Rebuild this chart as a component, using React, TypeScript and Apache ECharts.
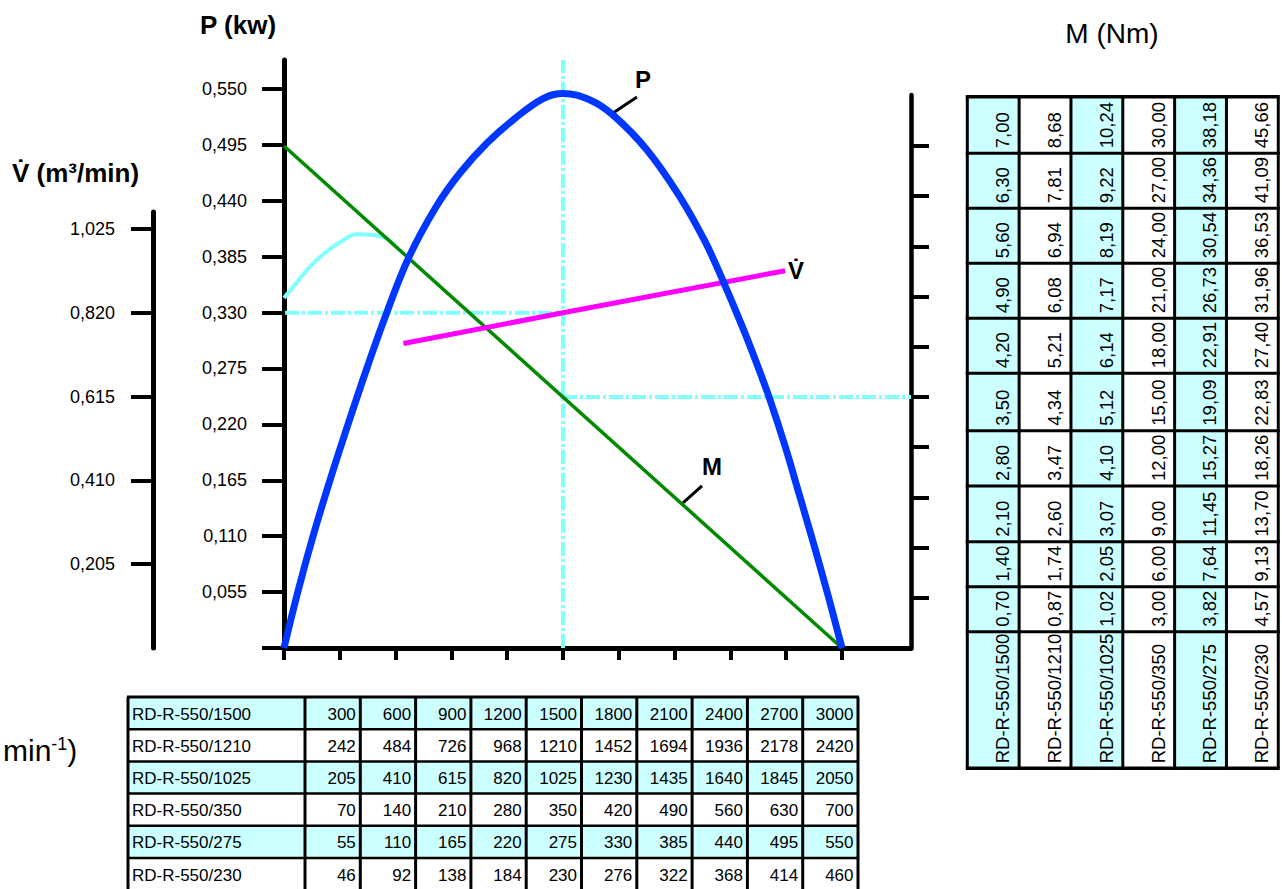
import React, { useEffect, useRef } from 'react';
import * as echarts from 'echarts';

// ---------------- data ----------------
// speed axis: tick positions (column index of the speed table)
const nTicks = [0, 1, 2, 3, 4, 5, 6, 7, 8, 9, 10];
// P (kW) tick values
const pTicks = [0, 0.055, 0.11, 0.165, 0.22, 0.275, 0.33, 0.385, 0.44, 0.495, 0.55];
const pLabelValues = [0.055, 0.11, 0.165, 0.22, 0.275, 0.33, 0.385, 0.44, 0.495, 0.55];
// V (m3/min) tick values
const vTicks = [0.205, 0.41, 0.615, 0.82, 1.025];
// M (Nm) tick values (model RD-R-550/1500)
const mTicks = [0.7, 1.4, 2.1, 2.8, 3.5, 4.2, 4.9, 5.6, 6.3, 7.0];

// power curve P(n)
const pCurveN = [0, 0.251, 0.52, 0.824, 1.147, 1.487, 1.846, 2.24, 2.724, 3.154, 3.638, 4.104, 4.642, 5.0, 5.484, 5.896, 6.505, 7.097, 7.545, 7.867, 8.208, 8.477, 8.71, 8.978, 9.229, 9.489, 9.749, 10];
const pCurveP = [0, 0.056, 0.11, 0.165, 0.22, 0.2755, 0.3306, 0.3847, 0.4339, 0.4673, 0.4969, 0.5195, 0.5406, 0.5456, 0.5392, 0.5244, 0.49, 0.4437, 0.4, 0.3612, 0.3169, 0.2792, 0.2442, 0.199, 0.152, 0.103, 0.052, 0];

// torque line M(n)
const mLineN = [0, 10];
const mLineM = [7.0, 0];
// low-speed torque curve
const mLowN = [0, 0.167, 0.466, 0.765, 1.063, 1.303, 1.6, 1.84, 1.97];
const mLowM = [4.88, 5.04, 5.32, 5.53, 5.69, 5.77, 5.76, 5.71, 5.62];
// volume flow V(n)
const vLineN = [2.14, 5, 8.98];
const vLineV = [0.745, 0.82, 0.923];
// operating point marks
const opN = 5;
const opV = 0.82;
const opM = 3.5;

// speed table (rpm per tick)
const models = ['RD-R-550/1500', 'RD-R-550/1210', 'RD-R-550/1025', 'RD-R-550/350', 'RD-R-550/275', 'RD-R-550/230'];
const speed1500 = [300, 600, 900, 1200, 1500, 1800, 2100, 2400, 2700, 3000];
const speed1210 = [242, 484, 726, 968, 1210, 1452, 1694, 1936, 2178, 2420];
const speed1025 = [205, 410, 615, 820, 1025, 1230, 1435, 1640, 1845, 2050];
const speed350 = [70, 140, 210, 280, 350, 420, 490, 560, 630, 700];
const speed275 = [55, 110, 165, 220, 275, 330, 385, 440, 495, 550];
const speed230 = [46, 92, 138, 184, 230, 276, 322, 368, 414, 460];
const speedRows = [speed1500, speed1210, speed1025, speed350, speed275, speed230];

// torque table (Nm per M tick, top to bottom)
const torque1500 = [7.0, 6.3, 5.6, 4.9, 4.2, 3.5, 2.8, 2.1, 1.4, 0.7];
const torque1210 = [8.68, 7.81, 6.94, 6.08, 5.21, 4.34, 3.47, 2.6, 1.74, 0.87];
const torque1025 = [10.24, 9.22, 8.19, 7.17, 6.14, 5.12, 4.1, 3.07, 2.05, 1.02];
const torque350 = [30.0, 27.0, 24.0, 21.0, 18.0, 15.0, 12.0, 9.0, 6.0, 3.0];
const torque275 = [38.18, 34.36, 30.54, 26.73, 22.91, 19.09, 15.27, 11.45, 7.64, 3.82];
const torque230 = [45.66, 41.09, 36.53, 31.96, 27.4, 22.83, 18.26, 13.7, 9.13, 4.57];
const torqueCols = [torque1500, torque1210, torque1025, torque350, torque275, torque230];

// ---------------- layout ----------------
const FONT = "'Liberation Sans', Arial, Helvetica, sans-serif";
const W = 1282;
const H = 889;
const PLOT = { left: 284, top: 60, right: 911, bottom: 648 };
const PX_PER_N = 55.8;
const PX_PER_P = 1016.4;
const PX_PER_V = 408.8;
const PX_PER_M = 71.71;
const V_AXIS = { left: 153, top: 212 };
const M_AXIS = { left: 910, top: 95 };
const CYAN = '#80ffff';
const LIGHT = '#ccffff';
const DASHDOT = [14, 3, 3, 3];

const plotH = PLOT.bottom - PLOT.top;
const N_MAX = (PLOT.right - PLOT.left) / PX_PER_N;
const P_MAX = plotH / PX_PER_P;
const V_MAX0 = plotH / PX_PER_V;
const M_MAX0 = plotH / PX_PER_M;
const V_MAX1 = (PLOT.bottom - V_AXIS.top) / PX_PER_V;
const M_MAX2 = (PLOT.bottom - M_AXIS.top) / PX_PER_M;
const N_LEFT_EXT = -22 / PX_PER_N;

const zip = (a: number[], b: number[]) => a.map((v, i) => [v, b[i]]);
const comma = (v: number, d: number) => v.toFixed(d).replace('.', ',');

function buildOption(): any {
  const axisBlack = { color: '#000', width: 5 };
  return {
    animation: false,
    grid: [
      { left: PLOT.left, top: PLOT.top, width: PLOT.right - PLOT.left, height: plotH, containLabel: false, outerBoundsMode: 'none' },
      { left: V_AXIS.left, top: V_AXIS.top, width: 1, height: PLOT.bottom - V_AXIS.top, containLabel: false, outerBoundsMode: 'none' },
      { left: M_AXIS.left, top: M_AXIS.top, width: 1, height: PLOT.bottom - M_AXIS.top, containLabel: false, outerBoundsMode: 'none' },
    ],
    xAxis: [
      {
        gridIndex: 0, type: 'value', min: 0, max: N_MAX,
        axisLine: { show: true, onZero: false, lineStyle: axisBlack },
        axisTick: { show: true, customValues: nTicks, length: 12, lineStyle: { color: '#000', width: 4 } },
        axisLabel: { show: false }, splitLine: { show: false },
      },
      { gridIndex: 1, type: 'value', min: 0, max: 1, show: false },
      { gridIndex: 2, type: 'value', min: 0, max: 1, show: false },
    ],
    yAxis: [
      {
        gridIndex: 0, type: 'value', position: 'left', min: 0, max: P_MAX,
        axisLine: { show: true, onZero: false, lineStyle: axisBlack },
        axisTick: { show: true, customValues: pTicks, length: 22, lineStyle: { color: '#000', width: 4 } },
        axisLabel: {
          show: true, customValues: pLabelValues, margin: 37, fontSize: 18, fontFamily: FONT, color: '#000',
          formatter: (v: number) => comma(v, 3),
        },
        splitLine: { show: false },
      },
      { gridIndex: 0, type: 'value', min: 0, max: V_MAX0, show: false },
      { gridIndex: 0, type: 'value', position: 'right', min: 0, max: M_MAX0, show: false },
      {
        gridIndex: 1, type: 'value', position: 'left', min: 0, max: V_MAX1,
        axisLine: { show: true, onZero: false, lineStyle: axisBlack },
        axisTick: { show: true, customValues: vTicks, length: 22, lineStyle: { color: '#000', width: 4 } },
        axisLabel: {
          show: true, customValues: vTicks, margin: 38, fontSize: 18, fontFamily: FONT, color: '#000',
          formatter: (v: number) => comma(v, 3),
        },
        splitLine: { show: false },
      },
      {
        gridIndex: 2, type: 'value', position: 'right', min: 0, max: M_MAX2,
        axisLine: { show: true, onZero: false, lineStyle: { color: '#000', width: 4.5 } },
        axisTick: { show: true, customValues: mTicks, length: 18, lineStyle: { color: '#000', width: 4 } },
        axisLabel: { show: false },
        splitLine: { show: false },
      },
    ],
    series: [
      {
        name: 'n op', type: 'line', xAxisIndex: 0, yAxisIndex: 0, symbol: 'none', clip: false,
        data: [[opN, 0], [opN, P_MAX]],
        lineStyle: { color: CYAN, width: 4, type: DASHDOT },
      },
      {
        name: 'V op', type: 'line', xAxisIndex: 0, yAxisIndex: 1, symbol: 'none', clip: false,
        data: [[N_LEFT_EXT, opV], [opN, opV]],
        lineStyle: { color: CYAN, width: 4, type: DASHDOT },
      },
      {
        name: 'M op', type: 'line', xAxisIndex: 0, yAxisIndex: 2, symbol: 'none', clip: false,
        data: [[opN, opM], [N_MAX, opM]],
        lineStyle: { color: CYAN, width: 4, type: DASHDOT },
      },
      {
        name: 'M low', type: 'line', xAxisIndex: 0, yAxisIndex: 2, symbol: 'none', smooth: 0.4,
        data: zip(mLowN, mLowM),
        lineStyle: { color: CYAN, width: 4 },
      },
      {
        name: 'M', type: 'line', xAxisIndex: 0, yAxisIndex: 2, symbol: 'none',
        data: zip(mLineN, mLineM),
        lineStyle: { color: '#008a00', width: 3.5 },
      },
      {
        name: 'V', type: 'line', xAxisIndex: 0, yAxisIndex: 1, symbol: 'none',
        data: zip(vLineN, vLineV),
        lineStyle: { color: '#ff00ff', width: 5 },
      },
      {
        name: 'P', type: 'line', xAxisIndex: 0, yAxisIndex: 0, symbol: 'none', smooth: 0.4,
        data: zip(pCurveN, pCurveP),
        lineStyle: { color: '#0037ff', width: 7 },
      },
    ],
  };
}

function txt(text: string, x: number, y: number, size: number, opts: any = {}) {
  return {
    type: 'text', x, y, rotation: opts.rotation || 0, silent: true,
    style: {
      text, fontSize: size, fontFamily: FONT, fontWeight: opts.weight || 'normal', fill: '#000',
      align: opts.align || 'left', verticalAlign: opts.vAlign || 'middle',
    },
  };
}
function ln(x1: number, y1: number, x2: number, y2: number, w: number) {
  return { type: 'line', silent: true, shape: { x1, y1, x2, y2 }, style: { stroke: '#000', lineWidth: w } };
}
function rect(x: number, y: number, w: number, h: number, fill: string) {
  return { type: 'rect', silent: true, shape: { x, y, width: w, height: h }, style: { fill } };
}

function buildGraphics(chart: any) {
  const els: any[] = [];
  // titles
  els.push(txt('P (kw)', 200, 25, 26, { weight: 'bold' }));
  els.push(txt('V\u0307 (m\u00b3/min)', 12, 173, 26, { weight: 'bold' }));
  els.push(txt('M (Nm)', 1112, 33, 28, { align: 'center' }));
  els.push({
    type: 'text', x: 3, y: 750, silent: true,
    style: {
      text: '{b|min}{s|-1}{b|)}', fontFamily: FONT, fill: '#000', verticalAlign: 'middle',
      rich: {
        b: { fontSize: 30, fontFamily: FONT, fill: '#000' },
        s: { fontSize: 18, fontFamily: FONT, fill: '#000', verticalAlign: 'top' },
      },
    },
  });

  // curve annotations
  const pA = chart.convertToPixel({ seriesIndex: 6 }, [pCurveN[15], pCurveP[15]]);
  if (pA) {
    els.push(ln(pA[0], pA[1] - 2, pA[0] + 24, pA[1] - 18, 3));
    els.push(txt('P', pA[0] + 30, pA[1] - 35, 24, { weight: 'bold', align: 'center' }));
  }
  const mN = 7.15;
  const mM = mLineM[0] + (mLineM[1] - mLineM[0]) * (mN - mLineN[0]) / (mLineN[1] - mLineN[0]);
  const mA = chart.convertToPixel({ seriesIndex: 4 }, [mN, mM]);
  if (mA) {
    els.push(ln(mA[0], mA[1] - 2, mA[0] + 19, mA[1] - 19, 3));
    els.push(txt('M', mA[0] + 29, mA[1] - 38, 24, { weight: 'bold', align: 'center' }));
  }
  const vA = chart.convertToPixel({ seriesIndex: 5 }, [vLineN[2], vLineV[2]]);
  if (vA) {
    els.push(txt('V\u0307', vA[0] + 3, vA[1], 24, { weight: 'bold' }));
  }

  // bottom speed table
  const bt = { left: 128, top: 697, labelW: 177, colW: 55.3, rowH: 32.2 };
  const btRight = bt.left + bt.labelW + bt.colW * 10;
  speedRows.forEach((row, r) => {
    if (r % 2 === 0) els.push(rect(bt.left, bt.top + r * bt.rowH, btRight - bt.left, bt.rowH, LIGHT));
  });
  for (let r = 0; r <= speedRows.length; r++) {
    els.push(ln(bt.left - 1, bt.top + r * bt.rowH, btRight + 1, bt.top + r * bt.rowH, r === 0 ? 3 : 2.5));
  }
  const btBottom = bt.top + speedRows.length * bt.rowH;
  els.push(ln(bt.left, bt.top, bt.left, btBottom, 3));
  for (let c = 0; c <= 10; c++) {
    const x = bt.left + bt.labelW + c * bt.colW;
    els.push(ln(x, bt.top, x, btBottom, 3));
  }
  speedRows.forEach((row, r) => {
    const cy = bt.top + r * bt.rowH + bt.rowH / 2 + 1;
    els.push(txt(models[r], bt.left + 4, cy, 17));
    row.forEach((v, c) => {
      const xr = bt.left + bt.labelW + (c + 1) * bt.colW - 4.5;
      els.push(txt(String(v), xr, cy, 17, { align: 'right' }));
    });
  });

  // right torque table
  const rtLeft = 967.3;
  const rtColW = 51.83;
  const rtBounds = [96.7, 153.3, 208.3, 263.3, 318.3, 373.3, 430.7, 486, 541.7, 586.7, 631.7, 768.3];
  const rtTop = rtBounds[0];
  const rtBottom = rtBounds[rtBounds.length - 1];
  const rtRight = rtLeft + rtColW * torqueCols.length;
  torqueCols.forEach((col, c) => {
    if (c % 2 === 0) els.push(rect(rtLeft + c * rtColW, rtTop, rtColW, rtBottom - rtTop, LIGHT));
  });
  rtBounds.forEach((y, i) => {
    els.push(ln(rtLeft - 1.5, y, rtRight + 1.5, y, i === 0 || i === rtBounds.length - 1 ? 3.5 : 3));
  });
  for (let c = 0; c <= torqueCols.length; c++) {
    const x = rtLeft + c * rtColW;
    els.push(ln(x, rtTop, x, rtBottom, 3));
  }
  torqueCols.forEach((col, c) => {
    const ax = rtLeft + (c + 1) * rtColW - 16.5;
    col.forEach((v, r) => {
      els.push(txt(comma(v, 2), ax, rtBounds[r + 1] - 5, 18.5, { rotation: Math.PI / 2 }));
    });
    els.push(txt(models[c], ax, rtBottom - 5, 18.5, { rotation: Math.PI / 2 }));
  });

  return els;
}

export default function App() {
  const ref = useRef<HTMLDivElement>(null);
  useEffect(() => {
    document.body.style.margin = '0';
    const chart = echarts.init(ref.current as HTMLDivElement, undefined, { renderer: 'svg', width: W, height: H });
    chart.setOption(buildOption());
    chart.setOption({ graphic: buildGraphics(chart) });
    return () => chart.dispose();
  }, []);
  return <div ref={ref} style={{ width: W, height: H, background: '#fff' }} />;
}
